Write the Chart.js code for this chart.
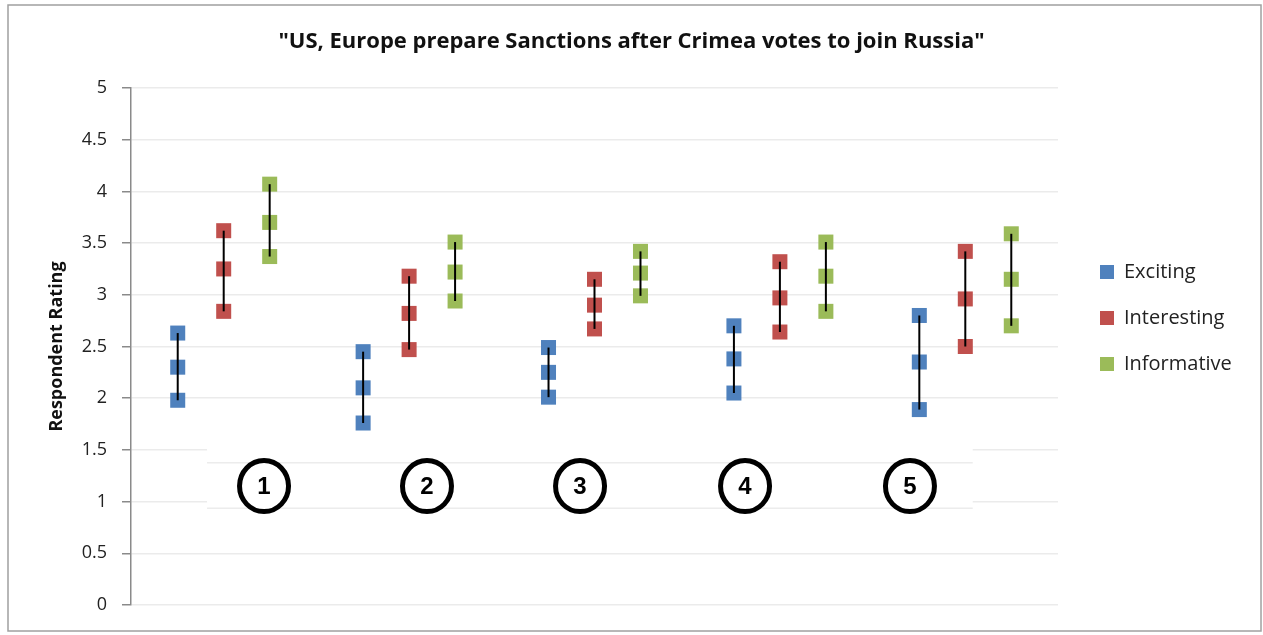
<!DOCTYPE html>
<html>
<head>
<meta charset="utf-8">
<script src="https://cdn.jsdelivr.net/npm/chart.js@4"></script>
<style>
  body { margin: 0; background: #fff; }
  canvas { display: block; }
</style>
</head>
<body>
<canvas id="myChart" width="1263" height="635"></canvas>
<script>
// data
const groups = ["1", "2", "3", "4", "5"]
const seriesNames = ["Exciting", "Interesting", "Informative"]

const excitingHigh = [2.63, 2.45, 2.49, 2.70, 2.80]
const excitingMid = [2.30, 2.10, 2.25, 2.38, 2.35]
const excitingLow = [1.98, 1.76, 2.01, 2.05, 1.89]

const interestingHigh = [3.62, 3.18, 3.15, 3.32, 3.42]
const interestingMid = [3.25, 2.82, 2.90, 2.97, 2.96]
const interestingLow = [2.84, 2.47, 2.67, 2.64, 2.50]

const informativeHigh = [4.07, 3.51, 3.42, 3.51, 3.59]
const informativeMid = [3.70, 3.22, 3.21, 3.18, 3.15]
const informativeLow = [3.37, 2.94, 2.99, 2.84, 2.70]

const yTickLabels = ["0", "0.5", "1", "1.5", "2", "2.5", "3", "3.5", "4", "4.5", "5"]

const COLORS = ["#4f81bd", "#c0504d", "#9bbb59"]
const FONT = "Open Sans"

const seriesValues = [
    [excitingHigh, excitingMid, excitingLow],
    [interestingHigh, interestingMid, interestingLow],
    [informativeHigh, informativeMid, informativeLow]
]

// square markers, drawn under the black high-low lines
const markers = {
    id: "markers",
    beforeDatasetsDraw(chart) {
        const ctx = chart.ctx
        const y = chart.scales.y
        seriesValues.forEach((vals, i) => {
            const meta = chart.getDatasetMeta(i)
            ctx.save()
            ctx.fillStyle = COLORS[i]
            meta.data.forEach((bar, j) => {
                vals.forEach(arr => {
                    const py = y.getPixelForValue(arr[j])
                    ctx.fillRect(bar.x - 7.5, py - 7.5, 15, 15)
                })
            })
            ctx.restore()
        })
    }
}

// the pasted white strip with circled group numbers
const badges = {
    id: "badges",
    afterDraw(chart) {
        const ctx = chart.ctx
        const area = chart.chartArea
        const y = chart.scales.y
        const w = area.right - area.left
        const bx1 = area.left + w * 0.082
        const bx2 = area.left + w * 0.908
        ctx.save()
        ctx.fillStyle = "#fff"
        ctx.fillRect(bx1, y.getPixelForValue(1.56), bx2 - bx1, y.getPixelForValue(0.91) - y.getPixelForValue(1.56))
        ctx.strokeStyle = "#ececec"
        ctx.lineWidth = 1.5
        ;[1.375, 0.935].forEach(v => {
            const py = y.getPixelForValue(v)
            ctx.beginPath()
            ctx.moveTo(bx1, py)
            ctx.lineTo(bx2, py)
            ctx.stroke()
        })
        const fr = [0.1435, 0.3193, 0.4844, 0.6624, 0.8403]
        const cy = y.getPixelForValue(1.15)
        chart.data.labels.forEach((lab, i) => {
            const cx = area.left + w * fr[i]
            ctx.beginPath()
            ctx.ellipse(cx, cy, 24.5, 25.5, 0, 0, Math.PI * 2)
            ctx.fillStyle = "#fff"
            ctx.fill()
            ctx.lineWidth = 5
            ctx.strokeStyle = "#000"
            ctx.stroke()
            ctx.fillStyle = "#000"
            ctx.font = "bold 24px 'Liberation Sans'"
            ctx.textAlign = "center"
            ctx.textBaseline = "middle"
            ctx.fillText(lab, cx, cy + 1)
        })
        // outer frame
        ctx.strokeStyle = "#a0a0a0"
        ctx.lineWidth = 1.5
        ctx.strokeRect(8, 5, 1253, 626)
        ctx.restore()
    }
}

// fixed legend width so the plot ends where the original does
const legendWidth = {
    id: "legendWidth",
    beforeLayout(chart) {
        const lg = chart.legend
        if (lg && !lg._fixed) {
            const fit = lg.fit
            lg.fit = function () {
                fit.call(this)
                this.width = 189
            }
            lg._fixed = true
        }
    }
}

function chart() {
    const data = {
        labels: groups,
        datasets: seriesNames.map((name, i) => ({
            label: name,
            data: groups.map((g, j) => [seriesValues[i][2][j], seriesValues[i][0][j]]),
            backgroundColor: "#000",
            borderWidth: 0,
            categoryPercentage: 0.744,
            barPercentage: 1,
            maxBarThickness: 2
        }))
    }

    const config = {
        type: "bar",
        data: data,
        plugins: [legendWidth, markers, badges],
        options: {
            responsive: false,
            animation: false,
            layout: { padding: { top: 0, left: 0, right: 0, bottom: 30 } },
            scales: {
                x: { display: false },
                y: {
                    min: 0,
                    max: 5,
                    ticks: {
                        stepSize: 0.5,
                        padding: 15,
                        color: "#222",
                        font: { family: FONT, size: 18 },
                        callback: (v, i) => yTickLabels[i]
                    },
                    grid: { color: "#ebebeb", lineWidth: 1.5, tickLength: 9, tickColor: "#8a8a8a", tickWidth: 1.5 },
                    border: { color: "#8a8a8a", width: 1.5 },
                    title: {
                        display: true,
                        text: "Respondent Rating",
                        color: "#111",
                        font: { family: FONT, size: 18, weight: "bold" },
                        padding: { top: 46, bottom: 0 }
                    },
                    afterFit: s => { s.width = 131 }
                },
                y2: {
                    position: "right",
                    display: true,
                    grid: { display: false },
                    ticks: { display: false },
                    border: { display: false },
                    afterFit: s => { s.width = 16 }
                }
            },
            plugins: {
                tooltip: { enabled: false },
                title: {
                    display: true,
                    text: '"US, Europe prepare Sanctions after Crimea votes to join Russia"',
                    color: "#111",
                    font: { family: FONT, size: 22, weight: "bold", lineHeight: 1.2 },
                    padding: { top: 29, bottom: 32.6 }
                },
                legend: {
                    position: "right",
                    align: "start",
                    title: { display: true, text: "", padding: { top: 224, bottom: 0 }, font: { size: 10 } },
                    labels: {
                        boxWidth: 14,
                        boxHeight: 14,
                        padding: 26,
                        color: "#222",
                        font: { family: FONT, size: 20 },
                        generateLabels: c => c.data.datasets.map((ds, i) => ({
                            text: ds.label,
                            fillStyle: COLORS[i],
                            strokeStyle: COLORS[i],
                            lineWidth: 0,
                            hidden: false,
                            datasetIndex: i,
                            fontColor: "#222"
                        }))
                    }
                }
            }
        }
    }

    new Chart(document.getElementById("myChart"), config)
}
chart()
</script>
</body>
</html>
